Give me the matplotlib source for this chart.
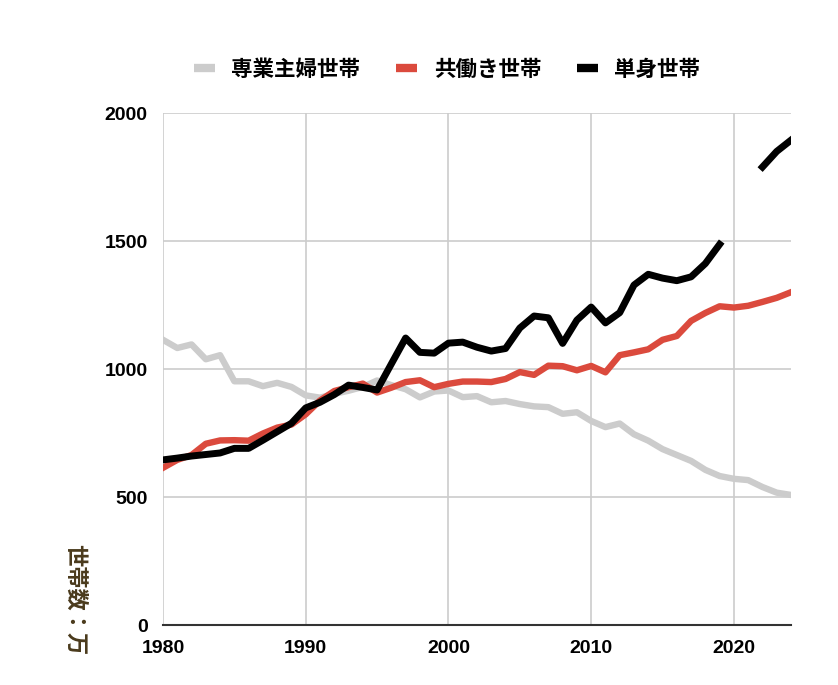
import numpy as np
import matplotlib
matplotlib.use("Agg")
import matplotlib.pyplot as plt

plt.rcParams['font.family'] = ['Liberation Sans', 'Noto Sans CJK JP', 'DejaVu Sans']

years = list(range(1980, 2025))
housewife = [1114, 1082, 1096, 1038, 1054, 952, 952, 933, 946, 930,
             897, 888, 903, 915, 930, 955, 937, 921, 889, 912,
             916, 890, 894, 870, 875, 863, 854, 851, 825, 831,
             797, 773, 787, 745, 720, 687, 664, 641, 606, 582,
             571, 566, 539, 517, 508]
dual = [614, 645, 664, 708, 721, 722, 720, 748, 771, 783,
        823, 877, 914, 929, 943, 908, 927, 949, 956, 929,
        942, 951, 951, 949, 961, 988, 977, 1013, 1011, 995,
        1012, 987, 1054, 1065, 1077, 1114, 1129, 1188, 1219, 1245,
        1240, 1247, 1262, 1278, 1300]
single = [645, 652, 660, 666, 672, 690, 690, 722, 755, 788,
          848, 870, 900, 937, 928, 918, 1020, 1121, 1065, 1062,
          1101, 1105, 1085, 1070, 1080, 1160, 1207, 1200, 1100, 1191,
          1242, 1180, 1220, 1328, 1370, 1355, 1345, 1360, 1412, 1487,
          np.nan, np.nan, 1789, 1850, 1894]
labels = ['専業主婦世帯', '共働き世帯', '単身世帯']
colors = ['#cccccc', '#db4a3d', '#000000']
xticks = [1980, 1990, 2000, 2010, 2020]
yticks = [0, 500, 1000, 1500, 2000]

fig = plt.figure(figsize=(8.38, 6.85), dpi=100)
ax = fig.add_axes([163/838, 1-625/685, (791-163)/838, (625-113)/685])

ax.plot(years, housewife, color=colors[0], lw=4.6, label=labels[0], solid_joinstyle='round')
ax.plot(years, dual, color=colors[1], lw=4.6, label=labels[1], solid_joinstyle='round')
ax.plot(years, single, color=colors[2], lw=5.0, label=labels[2], solid_joinstyle='round')

ax.set_xlim(1980, 2024)
ax.set_ylim(0, 2000)
ax.set_xticks(xticks)
ax.set_yticks(yticks)
ax.grid(True, color='#cccccc', lw=1.2)
ax.set_axisbelow(True)
for s in ['top', 'right', 'left']:
    ax.spines[s].set_visible(False)
ax.spines['bottom'].set_color('#333333')
ax.spines['bottom'].set_linewidth(1.5)
ax.tick_params(length=0)
for lab in ax.get_xticklabels() + ax.get_yticklabels():
    lab.set_fontweight('bold')
    lab.set_fontsize(14)
ax.tick_params(axis='x', pad=11)
ax.tick_params(axis='y', pad=11)

fig.text(75/838, 1-600/685, '世帯数：万', rotation=270, ha='center', va='center',
         fontsize=16, fontweight='bold', color='#4a3a1c',
         family=['Noto Sans CJK JP', 'DejaVu Sans'])

leg = fig.legend(loc='center', bbox_to_anchor=(447/838, 1-69/685), ncol=3, frameon=False,
                 handlelength=1.0, handletextpad=0.75, columnspacing=1.65,
                 prop={'family': ['Noto Sans CJK JP', 'DejaVu Sans'], 'weight': 'bold', 'size': 15.5})
for h in leg.get_lines():
    h.set_linewidth(6)
    h.set_solid_capstyle('butt')

fig.savefig('out.png', dpi=100)
